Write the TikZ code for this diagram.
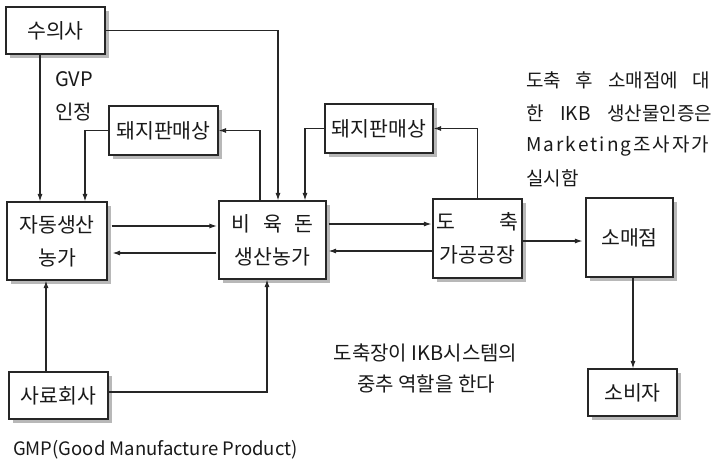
\documentclass[tikz,border=0pt]{standalone}
\usepackage{fontspec}
\setmainfont{Noto Sans CJK KR}
\usetikzlibrary{arrows.meta,shadows}
\begin{document}
\begin{tikzpicture}[x=1pt,y=-1pt,
  box/.style={draw=black!85, line width=1.1pt, fill=white, inner sep=0pt, align=center,
    font=\fontsize{20.5}{33}\selectfont, text=black!90,
    drop shadow={shadow xshift=4pt, shadow yshift=-4pt, fill=black!28, opacity=1}},
  conn/.style={draw=black!85, line width=1.1pt},
  arr/.style={conn, -{Latex[length=7.5pt,width=5pt]}},
  lbl/.style={inner sep=0pt, text=black!90, font=\fontsize{20}{22}\selectfont},
  rtxt/.style={inner sep=0pt, anchor=west, text=black!90, font=\fontsize{19}{22}\selectfont}]
\useasboundingbox (0,0) rectangle (714,465);

% boxes
\node[box, minimum width=99pt, minimum height=47pt] (suui) at (55.5,30.5) {수의사};
\node[box, minimum width=109pt, minimum height=49pt] (pL) at (163.5,130.5) {돼지판매상};
\node[box, minimum width=108pt, minimum height=49pt] (pR) at (379,128.5) {돼지판매상};
\node[box, minimum width=100pt, minimum height=78pt] (jd) at (57,241) {자동생산\\농가};
\node[box, minimum width=107pt, minimum height=78pt] (bi) at (272.5,240) {\hbox to 4em{비\hfill 육\hfill 돈}\\생산농가};
\node[box, minimum width=89pt, minimum height=79pt] (do) at (477.5,238.5) {\hbox to 4em{도\hfill 축}\\가공공장};
\node[box, minimum width=87pt, minimum height=79pt] (so) at (629.5,237.5) {소매점};
\node[box, minimum width=89pt, minimum height=47pt] (sb) at (632.5,392.5) {소비자};
\node[box, minimum width=99pt, minimum height=47pt] (sa) at (58.5,395.5) {사료회사};

% connectors
\draw[arr] (suui.east) -| ([xshift=5.5pt]bi.north);
\draw[arr] ([xshift=-15.5pt]suui.south) -- ([xshift=-15.5pt]suui.south |- jd.north);
\draw[arr] ([xshift=-12.5pt]bi.north) |- (pL.east);
\draw[arr] (pL.west) -| ([xshift=28pt]jd.north);
\draw[arr] (pR.west) -| ([xshift=32.5pt]bi.north);
\draw[arr] (do.north) |- (pR.east);
\draw[arr, shorten <=4pt, shorten >=1.5pt] ([yshift=14pt]bi.west -| jd.east) -- ([yshift=14pt]bi.west);
\draw[arr, shorten <=2pt, shorten >=5pt] ([yshift=-13pt]bi.west) -- ([yshift=-13pt]bi.west -| jd.east);
\draw[arr, shorten <=2pt, shorten >=1pt] ([yshift=16pt]bi.east) -- ([yshift=16pt]bi.east -| do.west);
\draw[arr, shorten >=2pt] ([yshift=-11pt]bi.east -| do.west) -- ([yshift=-11pt]bi.east);
\draw[arr, shorten >=3pt] ([yshift=-2.5pt]do.east) -- ([yshift=-2.5pt]do.east -| so.west);
\draw[arr] ([xshift=3.5pt]so.south) -- ([xshift=3.5pt]so.south |- sb.north);
\draw[arr] ([xshift=-12.5pt]sa.north) -- ([xshift=-12.5pt]sa.north |- jd.south);
\draw[arr] ([yshift=3.5pt]sa.east) -| ([xshift=-5.5pt]bi.south);

% labels
\node[lbl, anchor=west] (gvp) at (55,79) {GVP};
\node[lbl, anchor=west] (injeong) at (55,112) {인정};

\node[rtxt] (r1) at (526,80) {\makebox[184pt][s]{도축 후 소매점에 대}};
\node[rtxt] (r2) at (526,113) {\makebox[186pt][s]{한 IKB 생산물인증은}};
\node[rtxt] (r3) at (526,146) {\makebox[183pt][s]{M\hfil a\hfil r\hfil k\hfil e\hfil t\hfil i\hfil n\hfil g\hfil 조\hfil 사\hfil 자\hfil 가}};
\node[rtxt] (r4) at (526,178) {실시함};

\node[lbl] (m1) at (425.5,353) {도축장이 IKB시스템의};
\node[lbl] (m2) at (426,384) {중추 역할을 한다};

\node[lbl, anchor=west, font=\fontsize{18.5}{20}\selectfont] (gmp) at (13,450) {GMP(Good Manufacture Product)};
\end{tikzpicture}
\end{document}
